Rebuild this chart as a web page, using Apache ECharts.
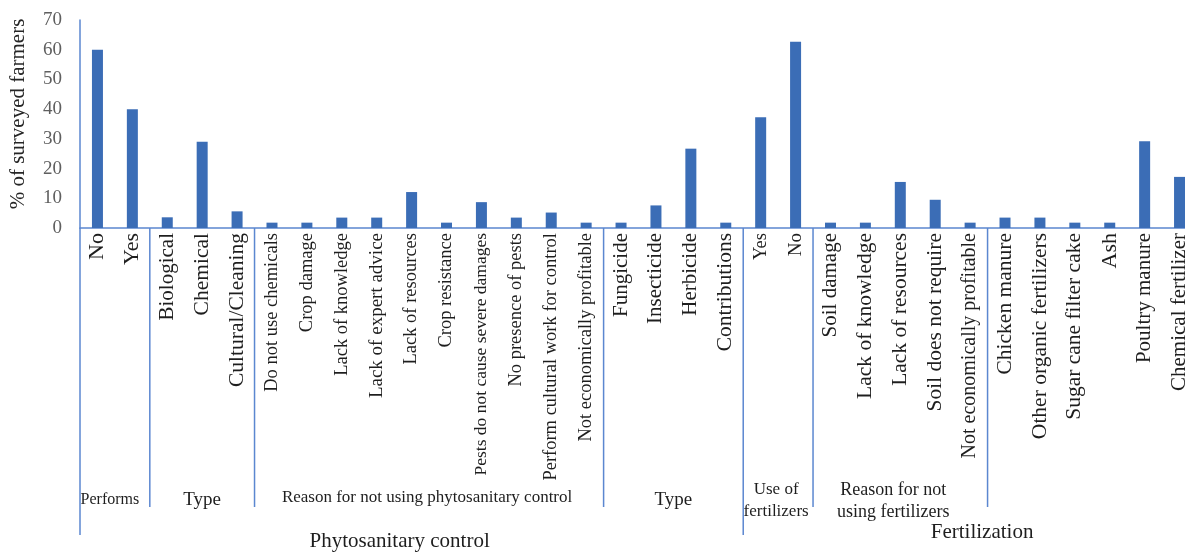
<!DOCTYPE html>
<html><head><meta charset="utf-8">
<script src="https://cdn.jsdelivr.net/npm/echarts@6/dist/echarts.min.js"></script>
<style>html,body{margin:0;padding:0;background:#fff}#c{width:1185px;height:552px}</style>
</head><body><div id="c"></div>
<script>
// ---- data ----
const categories = [
  'No','Yes',
  'Biological','Chemical','Cultural/Cleaning',
  'Do not use chemicals','Crop damage','Lack of knowledge','Lack of expert advice','Lack of resources',
  'Crop resistance','Pests do not cause severe damages','No presence of pests','Perform cultural work for control','Not economically profitable',
  'Fungicide','Insecticide','Herbicide','Contributions',
  'Yes','No',
  'Soil damage','Lack of knowledge','Lack of resources','Soil does not require','Not economically profitable',
  'Chicken manure','Other organic fertilizers','Sugar cane filter cake','Ash','Poultry manure','Chemical fertilizer'
];
const values = [
  60, 40,
  3.6, 29, 5.6,
  1.8, 1.8, 3.5, 3.5, 12.1,
  1.8, 8.7, 3.5, 5.2, 1.8,
  1.8, 7.6, 26.7, 1.8,
  37.3, 62.7,
  1.8, 1.8, 15.5, 9.5, 1.8,
  3.5, 3.5, 1.8, 1.8, 29.2, 17.2
];
const yMin = 0, yMax = 70, yStep = 10;
const yTitle = '% of surveyed farmers';
const subGroupNames = ['Performs','Type','Reason for not using phytosanitary control','Type','Use of\nfertilizers','Reason for not\nusing fertilizers',''];
const subGroupStarts = [0, 2, 5, 15, 19, 21, 26];
const subGroupEnds   = [2, 5, 15, 19, 21, 26, 32];
const mainGroupNames = ['Phytosanitary control','Fertilization'];
const mainGroupStarts = [0, 19];
const mainGroupEnds = [19, 32];

// ---- style / layout ----
const SERIF = '"Liberation Serif","Times New Roman",serif';
const LINE = '#5b87d0';
const BAR = '#3b6db6';
// rendered length (px) of each rotated category label, as measured on the reference
const labelLengths = [
  27, 32,
  88, 83, 153,
  160, 100, 143, 163, 132,
  115, 240, 155, 247, 208,
  83, 92, 83, 118,
  27, 23,
  105, 165, 152, 177, 228,
  143, 208, 187, 37, 130, 157
];
const measureCtx = document.createElement('canvas').getContext('2d');
measureCtx.font = '16px ' + SERIF;
const labelSizes = categories.map((t, i) => {
  const w = measureCtx.measureText(t).width;
  return Math.max(14, Math.min(22, Math.round(16 * labelLengths[i] / w * 2) / 2));
});
const categoryData = categories.map((t, i) => ({value: t, textStyle: {fontSize: labelSizes[i]}}));

const chart = echarts.init(document.getElementById('c'), null, {renderer:'canvas'});
chart.setOption({
  animation:false,
  backgroundColor:'#fff',
  grid:{left:80, top:20, height:208, width:1117, containLabel:false, outerBoundsMode:'none'},
  xAxis:{
    type:'category', data:categoryData,
    axisLine:{lineStyle:{color:LINE, width:1.5}},
    axisTick:{show:false},
    axisLabel:{interval:0, rotate:90, margin:5, fontFamily:SERIF, fontSize:16, color:'#1e1e1e'}
  },
  yAxis:{
    type:'value', min:yMin, max:yMax, interval:yStep,
    axisLine:{show:true, lineStyle:{color:LINE, width:1.5}},
    axisTick:{show:false},
    splitLine:{show:false},
    axisLabel:{margin:18, fontFamily:SERIF, fontSize:19, color:'#5f5f5f'}
  },
  series:[{type:'bar', data:values, barWidth:11, itemStyle:{color:BAR}}]
});

// group separators and labels, positioned through the category scale
const c0 = chart.convertToPixel({xAxisIndex:0}, 0);
const c1 = chart.convertToPixel({xAxisIndex:0}, 1);
const bw = c1 - c0;
const edge = k => c0 - bw/2 + k*bw;
const yAxisPx = chart.convertToPixel({yAxisIndex:0}, 0);
const yTopPx = chart.convertToPixel({yAxisIndex:0}, yMax);
const els = [];
const longAt = new Set(mainGroupStarts);
const subStyle = {
  'Performs': {fs:16, dx:-5, y:500},
  'Type': {fs:19, dx:0, y:500},
  'Reason for not using phytosanitary control': {fs:17, dx:-2, y:498},
  'Use of\nfertilizers': {fs:17, dx:-2, y:501},
  'Reason for not\nusing fertilizers': {fs:18, dx:-7, y:501}
};
subGroupStarts.forEach((s, i) => {
  const x = edge(s);
  const yEnd = longAt.has(s) ? 535 : 507;
  els.push({type:'line', shape:{x1:x, y1:yAxisPx, x2:x, y2:yEnd}, style:{stroke:LINE, lineWidth:1.5}, z:10});
  const name = subGroupNames[i];
  if (!name) return;
  const cx = (edge(s) + edge(subGroupEnds[i]))/2;
  const st = subStyle[name];
  els.push({type:'text', x:cx+st.dx, y:st.y, style:{text:name, font:st.fs+'px '+SERIF, fill:'#1e1e1e', align:'center', verticalAlign:'middle', lineHeight:22}, z:11});
});
mainGroupNames.forEach((name, i) => {
  const cx = (edge(mainGroupStarts[i]) + edge(mainGroupEnds[i]))/2;
  const dx = i === 0 ? -12 : 12;
  const y = i === 0 ? 541 : 532;
  els.push({type:'text', x:cx+dx, y:y, style:{text:name, font:'21px '+SERIF, fill:'#1e1e1e', align:'center', verticalAlign:'middle'}, z:11});
});
// y-axis title
els.push({type:'text', x:18, y:(yAxisPx + yTopPx)/2 - 10, rotation:Math.PI/2,
  style:{text:yTitle, font:'21px '+SERIF, fill:'#262626', align:'center', verticalAlign:'middle'}, z:11});
chart.setOption({graphic:{elements:els}});
</script></body></html>
